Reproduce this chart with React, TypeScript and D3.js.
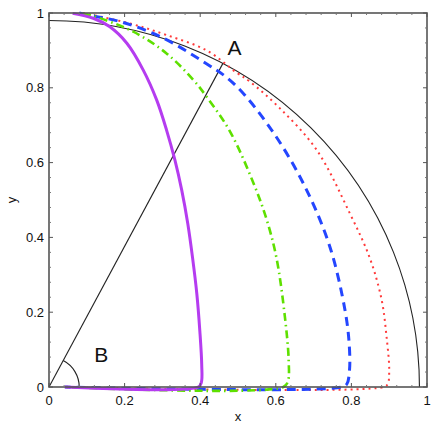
import { useMemo } from "react";
import { curveCatmullRom, line, range, scaleLinear } from "d3";

const WIDTH = 436;
const HEIGHT = 427;
const M = { left: 49, right: 9, top: 13, bottom: 40 };

const majorTicks = [0, 0.2, 0.4, 0.6, 0.8, 1];
const tickLabels = ["0", "0.2", "0.4", "0.6", "0.8", "1"];

// reference circle radius and angle of line to A (degrees)
const circleRadius = 0.98;
const angleA = 62;
const angleArcRadius = 0.08;

const purpleX = [0.0625, 0.117, 0.161, 0.206, 0.249, 0.285, 0.311, 0.333, 0.351, 0.367, 0.38, 0.391, 0.399, 0.404, 0.403, 0.395, 0.042];
const purpleY = [0.999, 0.986, 0.963, 0.919, 0.848, 0.767, 0.687, 0.607, 0.527, 0.438, 0.344, 0.25, 0.15, 0.06, 0.012, 0, 0];

const greenX = [0.09, 0.117, 0.223, 0.311, 0.382, 0.417, 0.479, 0.541, 0.576, 0.602, 0.624, 0.634, 0.632, 0.62, 0.042];
const greenY = [0.998, 0.992, 0.95, 0.892, 0.821, 0.776, 0.683, 0.545, 0.447, 0.344, 0.188, 0.072, 0.015, 0, 0];

const blueX = [0.08, 0.1, 0.188, 0.294, 0.408, 0.488, 0.589, 0.677, 0.743, 0.783, 0.794, 0.795, 0.788, 0.775, 0.042];
const blueY = [1.0, 0.995, 0.977, 0.937, 0.87, 0.812, 0.687, 0.536, 0.375, 0.206, 0.117, 0.045, 0.008, 0, 0];

const redX = [0.09, 0.214, 0.311, 0.417, 0.497, 0.532, 0.611, 0.708, 0.796, 0.849, 0.88, 0.893, 0.9, 0.896, 0.885, 0.042];
const redY = [1.0, 0.972, 0.941, 0.9, 0.84, 0.816, 0.745, 0.634, 0.464, 0.344, 0.233, 0.134, 0.045, 0.008, 0, 0];

const FONT = "'Liberation Sans', Arial, sans-serif";

export default function App() {
  const x = scaleLinear().domain([0, 1]).range([M.left, WIDTH - M.right]);
  const y = scaleLinear().domain([0, 1]).range([HEIGHT - M.bottom, M.top]);

  const minorTicks = useMemo(
    () => majorTicks.slice(0, -1).flatMap((t, i) => range(1, 5).map((k) => t + ((majorTicks[i + 1] - t) * k) / 5)),
    []
  );

  const path = (xs: number[], ys: number[]) =>
    line<number>()
      .x((_, i) => x(xs[i]))
      .y((_, i) => y(ys[i]))
      .curve(curveCatmullRom.alpha(0.5))(xs) ?? "";

  const rx = x(circleRadius) - x(0);
  const ry = y(0) - y(circleRadius);
  const circlePath = `M${x(0)},${y(circleRadius)} A${rx},${ry} 0 0 1 ${x(circleRadius)},${y(0)}`;

  const rad = (angleA * Math.PI) / 180;
  const ax = circleRadius * Math.cos(rad);
  const ay = circleRadius * Math.sin(rad);
  const srx = x(angleArcRadius) - x(0);
  const sry = y(0) - y(angleArcRadius);
  const smallArc = `M${x(angleArcRadius)},${y(0)} A${srx},${sry} 0 0 0 ${x(angleArcRadius * Math.cos(rad))},${y(angleArcRadius * Math.sin(rad))}`;

  const x0 = x(0), x1 = x(1), y0 = y(0), y1 = y(1);

  return (
    <svg width={WIDTH} height={HEIGHT} style={{ position: "absolute", left: 0, top: 0 }} fontFamily={FONT}>
      <rect width={WIDTH} height={HEIGHT} fill="#fff" />

      {/* curves */}
      <path d={circlePath} fill="none" stroke="#222" strokeWidth={1.1} />
      <line x1={x(0)} y1={y(0)} x2={x(ax)} y2={y(ay)} stroke="#222" strokeWidth={1.1} />
      <path d={smallArc} fill="none" stroke="#222" strokeWidth={1.1} />
      <path d={path(redX, redY)} fill="none" stroke="#ff3a3a" strokeWidth={2} strokeDasharray="2,4" />
      <path d={path(blueX, blueY)} fill="none" stroke="#2446ff" strokeWidth={3} strokeDasharray="9,6" />
      <path d={path(greenX, greenY)} fill="none" stroke="#5ee000" strokeWidth={2.6} strokeDasharray="8,4,1.5,4" />
      <path d={path(purpleX, purpleY)} fill="none" stroke="#b53cf0" strokeWidth={3} strokeLinejoin="round" />

      {/* frame */}
      <rect x={x0} y={y1} width={x1 - x0} height={y0 - y1} fill="none" stroke="#555" strokeWidth={1.6} />

      {/* ticks */}
      {majorTicks.map((t) => (
        <g key={`M${t}`} stroke="#555" strokeWidth={1}>
          <line x1={x(t)} x2={x(t)} y1={y0} y2={y0 - 4} />
          <line x1={x(t)} x2={x(t)} y1={y1} y2={y1 + 4} />
          <line x1={x0} x2={x0 + 4} y1={y(t)} y2={y(t)} />
          <line x1={x1} x2={x1 - 4} y1={y(t)} y2={y(t)} />
        </g>
      ))}
      {minorTicks.map((t) => (
        <g key={`m${t}`} stroke="#777" strokeWidth={1}>
          <line x1={x(t)} x2={x(t)} y1={y0} y2={y0 - 2} />
          <line x1={x(t)} x2={x(t)} y1={y1} y2={y1 + 2} />
          <line x1={x0} x2={x0 + 2} y1={y(t)} y2={y(t)} />
          <line x1={x1} x2={x1 - 2} y1={y(t)} y2={y(t)} />
        </g>
      ))}

      {/* tick labels */}
      {majorTicks.map((t, i) => (
        <text key={`xl${t}`} x={x(t)} y={y0 + 18} textAnchor="middle" fontSize={13} fill="#111">
          {tickLabels[i]}
        </text>
      ))}
      {majorTicks.map((t, i) => (
        <text key={`yl${t}`} x={x0 - 5} y={y(t)} dy="0.35em" textAnchor="end" fontSize={13} fill="#111">
          {tickLabels[i]}
        </text>
      ))}

      <text x={(x0 + x1) / 2} y={y0 + 34} textAnchor="middle" fontSize={13} fill="#111">x</text>
      <text transform={`translate(16,${(y0 + y1) / 2}) rotate(-90)`} textAnchor="middle" fontSize={13} fill="#111">y</text>

      <text x={x(0.472)} y={y(0.888)} fontSize={21} fill="#111">A</text>
      <text x={x(0.12)} y={y(0.067)} fontSize={21} fill="#111">B</text>
    </svg>
  );
}
